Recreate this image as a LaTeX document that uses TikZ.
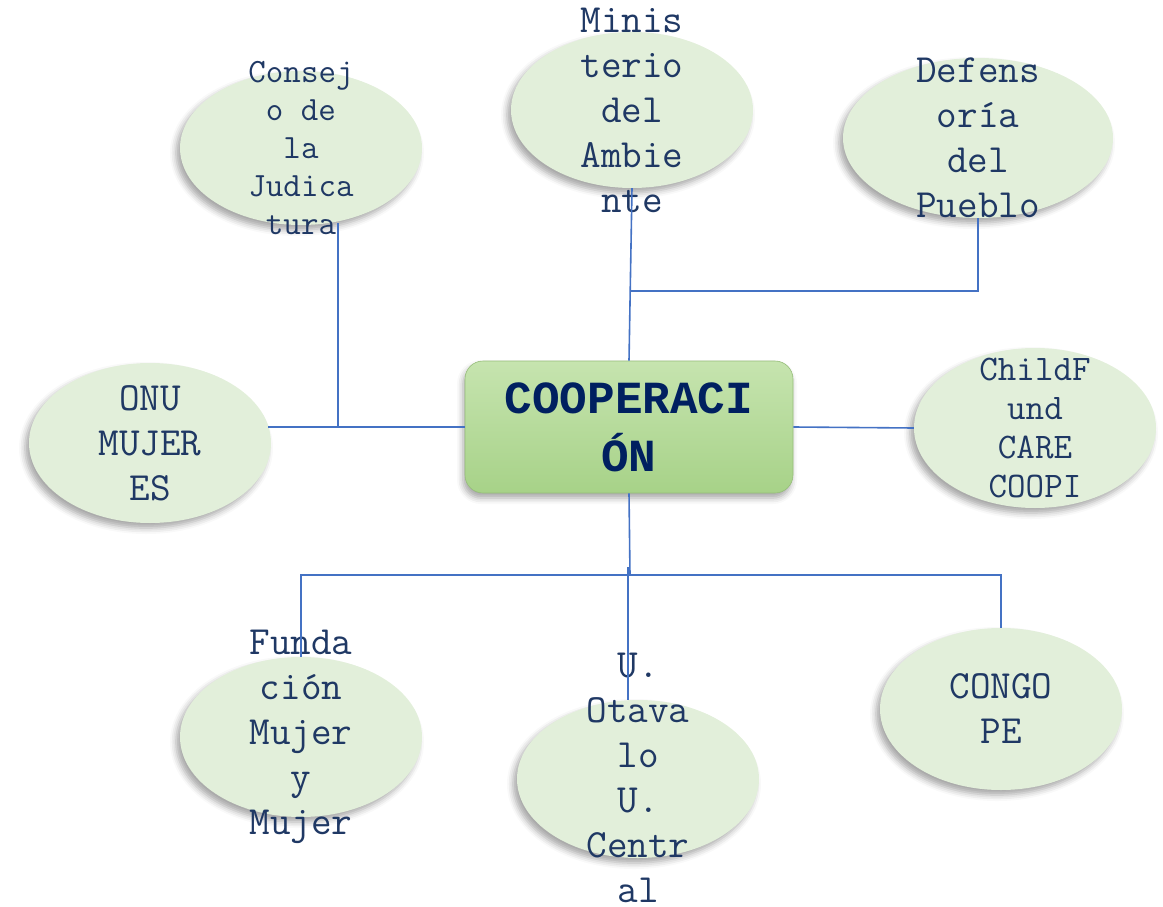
\documentclass[tikz,border=0pt]{standalone}
\usepackage{fontspec}
\newfontfamily\courb{Liberation Mono}
\usetikzlibrary{shapes.geometric,shadows,shadows.blur,calc}
\definecolor{ellfill}{HTML}{E2EFDA}
\definecolor{txtcol}{HTML}{1F3864}
\definecolor{boxtxt}{HTML}{002060}
\definecolor{linecol}{HTML}{4472C4}
\definecolor{boxtop}{HTML}{C6E4AF}
\definecolor{boxbot}{HTML}{A7D288}
\begin{document}
\begin{tikzpicture}[x=1pt,y=-1pt,
  org/.style={ellipse, fill=ellfill, minimum width=242pt, minimum height=157pt, inner sep=0pt,
    blur shadow={shadow xshift=-4pt, shadow yshift=-5pt, shadow blur radius=6pt, shadow opacity=35}},
  lbl/.style={align=center, text=txtcol, font=\ttfamily\fontsize{40}{45}\selectfont, inner sep=0pt},
  coopbox/.style={rounded corners=18pt, top color=boxtop, bottom color=boxbot, draw=boxbot!90!black, line width=0.6pt,
    minimum width=328pt, minimum height=132pt, align=center, text=boxtxt,
    font=\courb\bfseries\fontsize{46}{58}\selectfont,
    blur shadow={shadow xshift=-2pt, shadow yshift=-5pt, shadow blur radius=6pt, shadow opacity=35}},
  link/.style={draw=linecol, line width=1.6pt}]
\useasboundingbox (0,0) rectangle (1163,907);

% ellipses
\node[org, minimum height=154pt] (consejo) at (301,148) {};
\node[org, minimum height=156pt] (minis) at (632,110) {};
\node[org, minimum width=270pt, minimum height=160pt] (defen) at (978,138) {};
\node[org, minimum height=160pt] (onu) at (150,443) {};
\node[org, minimum height=160pt] (child) at (1035,428) {};
\node[org, minimum height=160pt] (fund) at (301,737) {};
\node[org, minimum height=158pt] (uota) at (638,779) {};
\node[org, minimum height=162pt] (congo) at (1001,709) {};

% central box
\node[coopbox] (coop) at (629,427) {COOPERACI\\ÓN};

% labels
\node[lbl, font=\ttfamily\fontsize{34}{38}\selectfont] (consejoT) at (consejo) {Consej\\o de\\la\\Judica\\tura};
\node[lbl] (minisT) at (minis) {Minis\\terio\\del\\Ambie\\nte};
\node[lbl] (defenT) at (defen) {Defens\\oría\\del\\Pueblo};
\node[lbl] (onuT) at (onu) {ONU\\MUJER\\ES};
\node[lbl, font=\ttfamily\fontsize{36}{39}\selectfont] (childT) at (child) {ChildF\\und\\CARE\\COOPI};
\node[lbl] (fundT) at (fund) {Funda\\ción\\Mujer\\y\\Mujer};
\node[lbl] (uotaT) at ([yshift=1pt]uota) {U.\\Otava\\lo\\U.\\Centr\\al};
\node[lbl] (congoT) at (congo) {CONGO\\PE};

% junctions
\coordinate (jt) at (631,291);
\coordinate (jb) at (630,575);
\coordinate (jb2) at (628,567);

% connectors
\draw[link] ([xshift=37pt,yshift=2pt]consejo.south) |- ([xshift=-100pt]coop.west);
\draw[link] ([xshift=-3pt]onu.east |- coop.west) -- (coop.west);
\draw[link] (coop.east) -- (child.west);
\draw[link] (minis.south) -- (coop.north);
\draw[link] (defen.south) |- (jt);
\draw[link] (coop.south) -- (jb);
\draw[link] (fund.north) |- (jb) -| (congo.north);
\draw[link] (jb2) -- (jb2 |- uota.north);
\end{tikzpicture}
\end{document}
